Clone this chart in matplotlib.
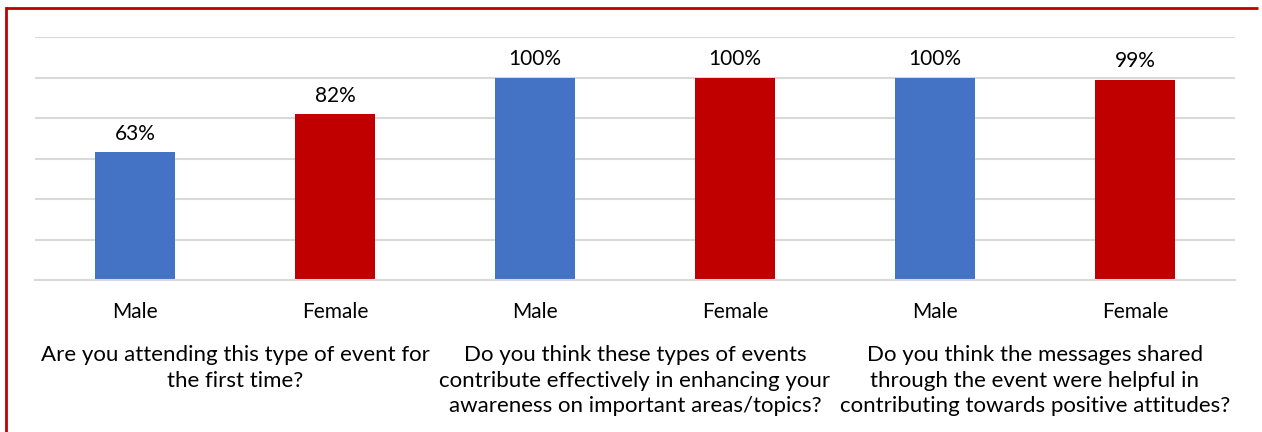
import matplotlib.pyplot as plt
from matplotlib.lines import Line2D

plt.rcParams['font.family'] = ['Lato', 'DejaVu Sans']

genders = ['Male', 'Female', 'Male', 'Female', 'Male', 'Female']
values = [63, 82, 100, 100, 100, 99]
colors = ['#4472c4', '#c00000', '#4472c4', '#c00000', '#4472c4', '#c00000']
questions = [
    'Are you attending this type of event for\nthe first time?',
    'Do you think these types of events\ncontribute effectively in enhancing your\nawareness on important areas/topics?',
    'Do you think the messages shared\nthrough the event were helpful in\ncontributing towards positive attitudes?',
]

fig = plt.figure(figsize=(12.62, 4.32), dpi=100)
ax = fig.add_axes([35 / 1262, 1 - 280 / 432, 1200 / 1262, 243 / 432])

x = list(range(len(values)))
ax.bar(x, values, width=0.4, color=colors, zorder=2)
for xi, v in zip(x, values):
    ax.text(xi, v + 4, f'{v}%', ha='center', va='bottom', fontsize=15, color='#000000')

ax.set_xlim(-0.5, 5.5)
ax.set_ylim(0, 120)
ax.set_yticks(range(0, 121, 20))
ax.yaxis.grid(True, color='#d9d9d9', linewidth=1.5, zorder=0)
ax.tick_params(axis='y', left=False, labelleft=False)
ax.tick_params(axis='x', length=0, pad=16, labelsize=15)
ax.set_xticks(x)
ax.set_xticklabels(genders)
for s in ['top', 'right', 'left']:
    ax.spines[s].set_visible(False)
ax.spines['bottom'].set_color('#d9d9d9')
ax.spines['bottom'].set_linewidth(1.5)

for i, q in enumerate(questions):
    ax.text(2 * i + 0.5, -0.268, q, transform=ax.get_xaxis_transform(),
            ha='center', va='top', fontsize=16, linespacing=1.34)

# outer frame, left and top edges
fig.add_artist(Line2D([6 / 1262, 6 / 1262], [0, 1 - 8 / 432],
                      transform=fig.transFigure, color='#c00000', linewidth=2))
fig.add_artist(Line2D([6 / 1262, 1 - 4 / 1262], [1 - 8 / 432, 1 - 8 / 432],
                      transform=fig.transFigure, color='#c00000', linewidth=2,
                      solid_capstyle='butt'))

fig.savefig('out.png', dpi=100)
